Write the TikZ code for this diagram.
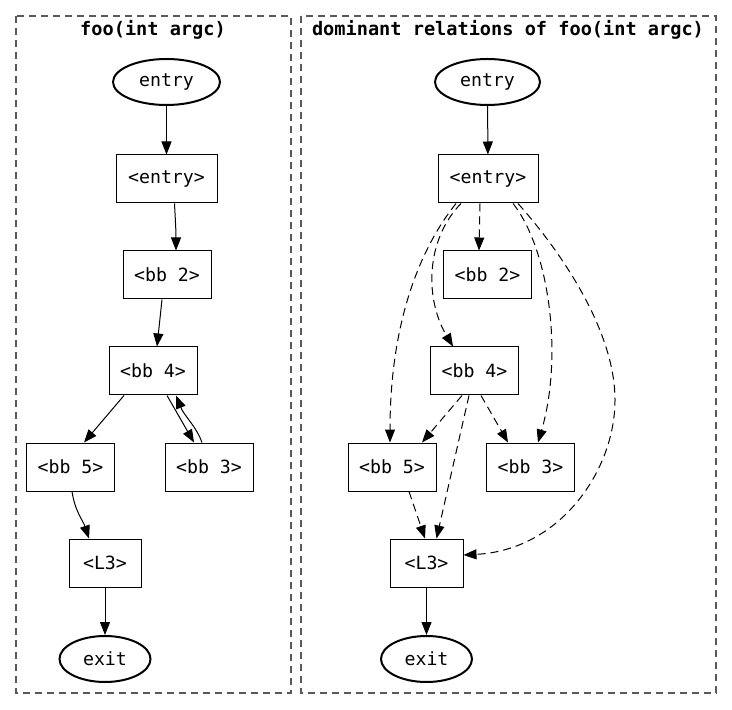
\documentclass[tikz,border=0pt]{standalone}
\usepackage{fontspec}
\setmonofont{DejaVu Sans Mono}
\usetikzlibrary{arrows.meta,positioning,calc,shapes.geometric}

\begin{document}
\begin{tikzpicture}[x=0.5pt, y=-0.5pt, >={Triangle[length=6.5pt,width=5pt]},
  bbox/.style={draw, rectangle, line width=0.5pt, minimum height=24pt,
    minimum width=44pt, inner sep=0pt, font=\ttfamily\fontsize{9.1}{11}\selectfont},
  term/.style={draw, ellipse, line width=1pt, minimum height=23pt,
    inner sep=0pt, font=\ttfamily\fontsize{9.1}{11}\selectfont},
  cluster/.style={draw=black!65, line width=0.7pt, dash pattern=on 3.5pt off 2.5pt},
  ctitle/.style={font=\ttfamily\bfseries\fontsize{9.3}{11}\selectfont},
  flow/.style={->, line width=0.5pt},
  dom/.style={->, line width=0.5pt, dash pattern=on 4pt off 2.5pt}]
  \useasboundingbox (0,0) rectangle (732,710);

  % clusters
  \draw[cluster] (16,16) rectangle (291,693);
  \draw[cluster] (301,16) rectangle (716,693);
  \node[ctitle] (ltitle) at (153,30) {foo(int argc)};
  \node[ctitle] (rtitle) at (508,30) {dominant relations of foo(int argc)};

  % control flow graph
  \node[term, minimum width=53.5pt] (lentry) at (166.5,82) {entry};
  \node[bbox, minimum width=50.5pt] (le) at (166.5,179) {<entry>};
  \node[bbox] (lb2) at (167,275) {<bb 2>};
  \node[bbox] (lb4) at (153,371) {<bb 4>};
  \node[bbox] (lb5) at (70.5,467) {<bb 5>};
  \node[bbox] (lb3) at (209,467) {<bb 3>};
  \node[bbox, minimum width=36pt] (ll3) at (105,563) {<L3>};
  \node[term, minimum width=45.5pt] (lexit) at (105,659) {exit};

  \draw[flow] (lentry) -- (le);
  \draw[flow] ($(le.south)+(8,0)$) .. controls +(1,20) and +(0,-20) .. ($(lb2.north)+(9,0)$);
  \draw[flow] ($(lb2.south)+(-5,0)$) -- ($(lb4.north)+(4,0)$);
  \draw[flow] ($(lb4.south)+(-29,0)$) -- ($(lb5.north)+(13.5,0)$);
  \draw[flow] ($(lb4.south)+(14,0)$) -- ($(lb3.north)+(-15,0)$);
  \draw[flow] ($(lb3.north)+(-7,0)$) .. controls +(-5,-15) and +(8,20) .. ($(lb4.south)+(23,0)$);
  \draw[flow] ($(lb5.south)+(1.5,0)$) .. controls +(3,20) and +(-6,-18) .. ($(ll3.north)+(-16,0)$);
  \draw[flow] (ll3) -- (lexit);

  % dominator tree
  \node[term, minimum width=52.5pt] (rentry) at (487.5,82) {entry};
  \node[bbox, minimum width=50pt] (re) at (488,179) {<entry>};
  \node[bbox] (rb2) at (487.5,275) {<bb 2>};
  \node[bbox] (rb4) at (474.5,371) {<bb 4>};
  \node[bbox] (rb5) at (392,467) {<bb 5>};
  \node[bbox] (rb3) at (530.5,467) {<bb 3>};
  \node[bbox, minimum width=36.5pt] (rl3) at (426.5,563) {<L3>};
  \node[term, minimum width=45.5pt] (rexit) at (426.5,659) {exit};

  \draw[flow] (rentry) -- (re);
  \draw[dom] ($(re.south)+(-8,0)$) -- ($(rb2.north)+(-8.5,0)$);
  \draw[dom] ($(re.south)+(-27,0)$) .. controls +(-36,37) and +(-28,-47) .. ($(rb4.north)+(-21.5,0)$);
  \draw[dom] ($(re.south)+(-32,0)$) .. controls +(-36,45) and +(0,-120) .. ($(rb5.north)+(-2,0)$);
  \draw[dom] ($(re.south)+(25,0)$) .. controls +(37,47) and +(25,-85) .. ($(rb3.north)+(7.5,0)$);
  \draw[dom] ($(re.south)+(30,0)$) .. controls +(42,47) and +(0,-70) .. (615,400)
    .. controls +(0,70) and +(97,-5) .. ($(rl3.east)+(0,-8)$);
  \draw[dom] ($(rb4.south)+(-12.5,0)$) -- ($(rb5.north)+(30,0)$);
  \draw[dom] ($(rb4.south)+(6.5,0)$) -- ($(rb3.north)+(-22.5,0)$);
  \draw[dom] ($(rb4.south)+(-5.5,0)$) -- ($(rl3.north)+(10,0)$);
  \draw[dom] ($(rb5.south)+(17,0)$) -- ($(rl3.north)+(-1.5,0)$);
  \draw[flow] (rl3) -- (rexit);
\end{tikzpicture}
\end{document}
